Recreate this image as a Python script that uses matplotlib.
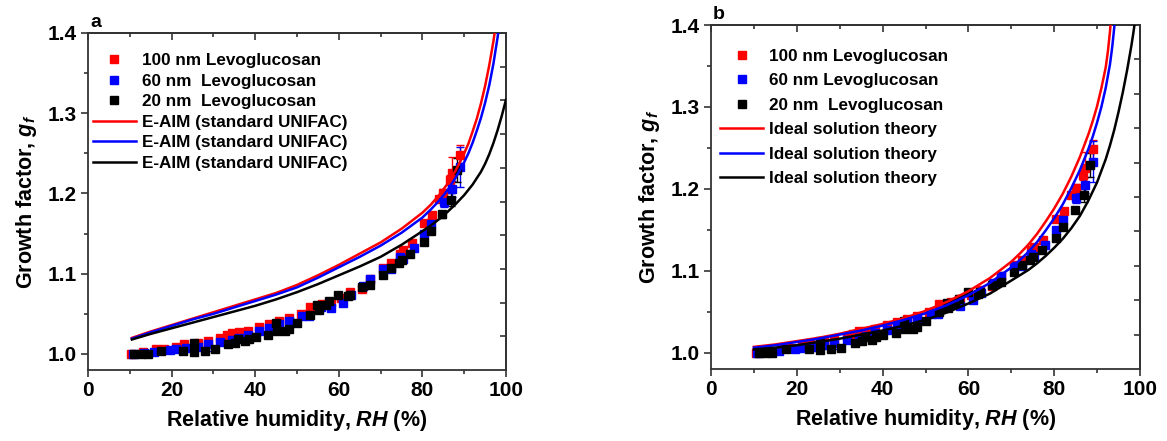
import numpy as np
import matplotlib
matplotlib.use('Agg')
import matplotlib.pyplot as plt
from matplotlib.ticker import MultipleLocator, FixedLocator, FormatStrFormatter

plt.rcParams['font.family'] = ['Liberation Sans', 'DejaVu Sans']
plt.rcParams['font.weight'] = 'bold'
plt.rcParams['axes.labelweight'] = 'bold'
plt.rcParams['mathtext.fontset'] = 'custom'
plt.rcParams['mathtext.rm'] = 'Liberation Sans:bold'
plt.rcParams['mathtext.it'] = 'Liberation Sans:italic:bold'
plt.rcParams['mathtext.bf'] = 'Liberation Sans:bold'

# measured growth factors (same data in both panels)
rh_100 = [10.4, 13.1, 16.3, 18.3, 21.1, 23.0, 26.4, 28.6, 31.6, 33.2, 34.4, 36.2, 38.3, 41.0,
          43.3, 45.7, 48.1, 50.9, 53.1, 56.0, 58.1, 60.6, 62.6, 65.5, 67.5, 70.6, 72.4, 74.7,
          75.4, 77.4, 80.4, 82.3, 83.9, 85.0, 86.7, 87.1, 89.0]
gf_100 = [1.000, 1.003, 1.006, 1.006, 1.009, 1.012, 1.014, 1.016, 1.020, 1.023, 1.026, 1.027,
          1.029, 1.034, 1.037, 1.041, 1.045, 1.050, 1.059, 1.062, 1.065, 1.070, 1.077, 1.081,
          1.094, 1.107, 1.113, 1.125, 1.129, 1.138, 1.163, 1.173, 1.193, 1.201, 1.217, 1.225, 1.248]
err_100 = [0.002] * 33 + [0.005, 0.006, 0.020, 0.012]

rh_60 = [10.7, 13.5, 15.9, 19.5, 21.1, 23.5, 26.4, 28.6, 31.6, 34.4, 36.2, 38.3, 41.0, 43.3,
         45.7, 48.1, 51.2, 52.9, 55.7, 58.1, 61.0, 63.0, 65.8, 67.5, 70.6, 72.6, 74.7, 75.4,
         77.9, 80.4, 82.1, 85.1, 87.1, 89.0]
gf_60 = [1.000, 1.001, 1.002, 1.005, 1.006, 1.007, 1.009, 1.012, 1.015, 1.018, 1.020, 1.024,
         1.028, 1.032, 1.037, 1.041, 1.047, 1.047, 1.059, 1.057, 1.064, 1.073, 1.085, 1.093,
         1.106, 1.106, 1.121, 1.118, 1.132, 1.150, 1.162, 1.189, 1.205, 1.233]
err_60 = [0.002] * 7 + [0.008] + [0.002] * 23 + [0.006, 0.010, 0.025]

rh_20 = [11.1, 12.7, 14.3, 17.5, 22.8, 25.4, 25.4, 28.0, 30.4, 33.6, 35.2, 36.0, 37.6, 38.4,
         40.2, 43.1, 44.9, 45.3, 47.1, 48.1, 50.1, 53.1, 54.9, 55.3, 56.9, 57.7, 59.8, 62.2,
         62.6, 65.5, 67.5, 70.6, 72.4, 74.3, 75.1, 77.1, 80.4, 82.1, 84.8, 86.9, 88.3]
gf_20 = [1.000, 1.000, 1.000, 1.004, 1.004, 1.014, 1.003, 1.004, 1.006, 1.012, 1.014, 1.019,
         1.016, 1.019, 1.021, 1.024, 1.039, 1.029, 1.029, 1.031, 1.039, 1.049, 1.061, 1.055,
         1.061, 1.066, 1.074, 1.072, 1.074, 1.083, 1.086, 1.098, 1.107, 1.113, 1.117, 1.125,
         1.140, 1.153, 1.174, 1.192, 1.229]
err_20 = [0.002] * 38 + [0.004, 0.008, 0.015]

# panel a: E-AIM (standard UNIFAC) curves
eaim_rh_100 = [10.5, 15, 20, 25, 30, 35, 40, 45, 50, 55, 60, 65, 70, 75, 80, 82, 84, 86, 88,
               90, 91, 92, 93, 94, 95, 96, 97, 97.5, 98]
eaim_gf_100 = [1.020, 1.028, 1.036, 1.044, 1.052, 1.060, 1.068, 1.076, 1.086, 1.098, 1.111,
               1.125, 1.139, 1.156, 1.176, 1.186, 1.198, 1.212, 1.229, 1.250, 1.262, 1.277,
               1.293, 1.312, 1.334, 1.360, 1.390, 1.408, 1.428]
eaim_rh_60 = [10.5, 15, 20, 25, 30, 35, 40, 45, 50, 55, 60, 65, 70, 75, 80, 82, 84, 86, 88,
              90, 91, 92, 93, 94, 95, 96, 97, 98, 98.5, 99]
eaim_gf_60 = [1.019, 1.027, 1.035, 1.043, 1.050, 1.058, 1.066, 1.074, 1.083, 1.095, 1.108,
              1.121, 1.135, 1.151, 1.170, 1.180, 1.191, 1.204, 1.220, 1.239, 1.250, 1.263,
              1.278, 1.294, 1.313, 1.335, 1.362, 1.395, 1.414, 1.435]
eaim_rh_20 = [10.5, 15, 20, 25, 30, 35, 40, 45, 50, 55, 60, 65, 70, 75, 80, 82, 84, 86, 88,
              90, 92, 94, 95, 96, 97, 98, 99, 100]
eaim_gf_20 = [1.018, 1.025, 1.032, 1.039, 1.046, 1.053, 1.060, 1.068, 1.077, 1.087, 1.098,
              1.109, 1.121, 1.136, 1.153, 1.160, 1.168, 1.177, 1.187, 1.198, 1.211, 1.227,
              1.237, 1.249, 1.263, 1.279, 1.297, 1.317]

# panel b: ideal solution theory curves
ideal_rh_100 = [10, 15, 20, 25, 30, 35, 40, 45, 50, 55, 60, 65, 70, 72, 74, 76, 78, 80, 82,
                84, 86, 88, 89, 90, 91, 92, 92.5, 93, 93.5]
ideal_gf_100 = [1.007, 1.010, 1.014, 1.018, 1.023, 1.029, 1.035, 1.042, 1.051, 1.062, 1.075,
                1.091, 1.111, 1.121, 1.132, 1.145, 1.160, 1.176, 1.194, 1.215, 1.239, 1.267,
                1.283, 1.301, 1.323, 1.348, 1.367, 1.392, 1.425]
ideal_rh_60 = [10, 15, 20, 25, 30, 35, 40, 45, 50, 55, 60, 65, 70, 72, 74, 76, 78, 80, 82,
               84, 86, 88, 89, 90, 91, 92, 93, 93.5, 94, 94.5]
ideal_gf_60 = [1.006, 1.009, 1.013, 1.017, 1.022, 1.027, 1.033, 1.040, 1.048, 1.058, 1.070,
               1.085, 1.104, 1.113, 1.123, 1.135, 1.149, 1.164, 1.181, 1.201, 1.223, 1.249,
               1.264, 1.281, 1.300, 1.323, 1.352, 1.372, 1.397, 1.428]
ideal_rh_20 = [10, 15, 20, 25, 30, 35, 40, 45, 50, 55, 60, 65, 70, 74, 76, 78, 80, 82, 84,
               86, 88, 90, 92, 93, 94, 95, 96, 97, 98, 98.5, 99, 99.5]
ideal_gf_20 = [1.004, 1.006, 1.009, 1.013, 1.017, 1.022, 1.027, 1.033, 1.040, 1.049, 1.060,
               1.072, 1.088, 1.101, 1.109, 1.118, 1.128, 1.139, 1.152, 1.167, 1.186, 1.208,
               1.236, 1.253, 1.272, 1.294, 1.318, 1.345, 1.375, 1.392, 1.412, 1.433]

labels_a = ['100 nm Levoglucosan', '60 nm  Levoglucosan', '20 nm  Levoglucosan']
labels_b = ['100 nm Levoglucosan', '60 nm Levoglucosan', '20 nm  Levoglucosan']
colors = ['#ff0000', '#0000ff', '#000000']

measured = [(rh_100, gf_100, err_100), (rh_60, gf_60, err_60), (rh_20, gf_20, err_20)]
spine_col = '#333333'


def setup_axis(ax, tag):
    ax.set_xlim(0, 100)
    ax.set_ylim(0.98, 1.4)
    ax.xaxis.set_major_locator(MultipleLocator(20))
    ax.xaxis.set_minor_locator(MultipleLocator(10))
    ax.yaxis.set_major_locator(MultipleLocator(0.1))
    ax.yaxis.set_minor_locator(MultipleLocator(0.05))
    ax.yaxis.set_major_formatter(FormatStrFormatter('%.1f'))
    ax.tick_params(which='major', direction='out', length=5, width=1.2, labelsize=15, pad=3,
                   color=spine_col)
    ax.tick_params(which='minor', direction='out', length=3, width=1.2, color=spine_col)
    plt.setp(ax.get_xticklabels() + ax.get_yticklabels(), fontweight='bold')
    for s in ax.spines.values():
        s.set_linewidth(1.3)
        s.set_color(spine_col)
    # mirrored inward ticks on top; the right axis uses its own even division
    top = ax.secondary_xaxis('top')
    top.xaxis.set_major_locator(MultipleLocator(20))
    top.xaxis.set_minor_locator(MultipleLocator(10))
    top.tick_params(which='major', direction='in', length=5, width=1.2, labeltop=False,
                    color=spine_col)
    top.tick_params(which='minor', direction='in', length=3, width=1.2, color=spine_col)
    right = ax.secondary_yaxis('right')
    right.yaxis.set_major_locator(FixedLocator([0.98 + 0.042 * k for k in range(1, 10)]))
    right.yaxis.set_minor_locator(FixedLocator([]))
    right.tick_params(which='major', direction='in', length=4, width=1.2, labelright=False,
                      color=spine_col)
    for s in list(top.spines.values()) + list(right.spines.values()):
        s.set_linewidth(1.3)
        s.set_color(spine_col)
    ax.set_xlabel('Relative humidity, $RH$ (%)', fontsize=15.5, labelpad=6)
    ax.set_ylabel('Growth factor, $g_f$', fontsize=15.5, labelpad=6)
    ax.text(0.005, 1.005, tag, transform=ax.transAxes, fontsize=14, ha='left', va='bottom')


def draw_panel(ax, labels, curves, line_label, legend_anchor, spacing):
    handles = []
    for (x, y, e), c, lab in zip(measured, colors, labels):
        ax.errorbar(x, y, yerr=e, fmt='none', ecolor=c, elinewidth=1, capsize=3, capthick=1, zorder=2)
        h, = ax.plot(x, y, ls='none', marker='s', ms=6.4, mfc=c, mec=c, label=lab, zorder=3)
        handles.append(h)
    for (x, y), c in zip(curves, colors):
        h, = ax.plot(x, y, color=c, lw=1.8, label=line_label, zorder=4)
        handles.append(h)
    ax.legend(handles=handles, loc='upper left', bbox_to_anchor=legend_anchor, frameon=False,
              fontsize=12.3, handlelength=2.5, handletextpad=0.35, labelspacing=spacing,
              borderaxespad=0, borderpad=0, markerscale=0.85)


fig = plt.figure(figsize=(11.67, 4.41), dpi=100)
ax_a = fig.add_axes([88 / 1167, 71 / 441, 418 / 1167, 337 / 441])
ax_b = fig.add_axes([711 / 1167, 72 / 441, 429 / 1167, 344 / 441])

setup_axis(ax_a, 'a')
setup_axis(ax_b, 'b')

draw_panel(ax_a, labels_a,
           [(eaim_rh_100, eaim_gf_100), (eaim_rh_60, eaim_gf_60), (eaim_rh_20, eaim_gf_20)],
           'E-AIM (standard UNIFAC)', (0.012, 0.94), 0.32)
draw_panel(ax_b, labels_b,
           [(ideal_rh_100, ideal_gf_100), (ideal_rh_60, ideal_gf_60), (ideal_rh_20, ideal_gf_20)],
           'Ideal solution theory', (0.022, 0.93), 0.55)

fig.savefig('out.png', dpi=100)
